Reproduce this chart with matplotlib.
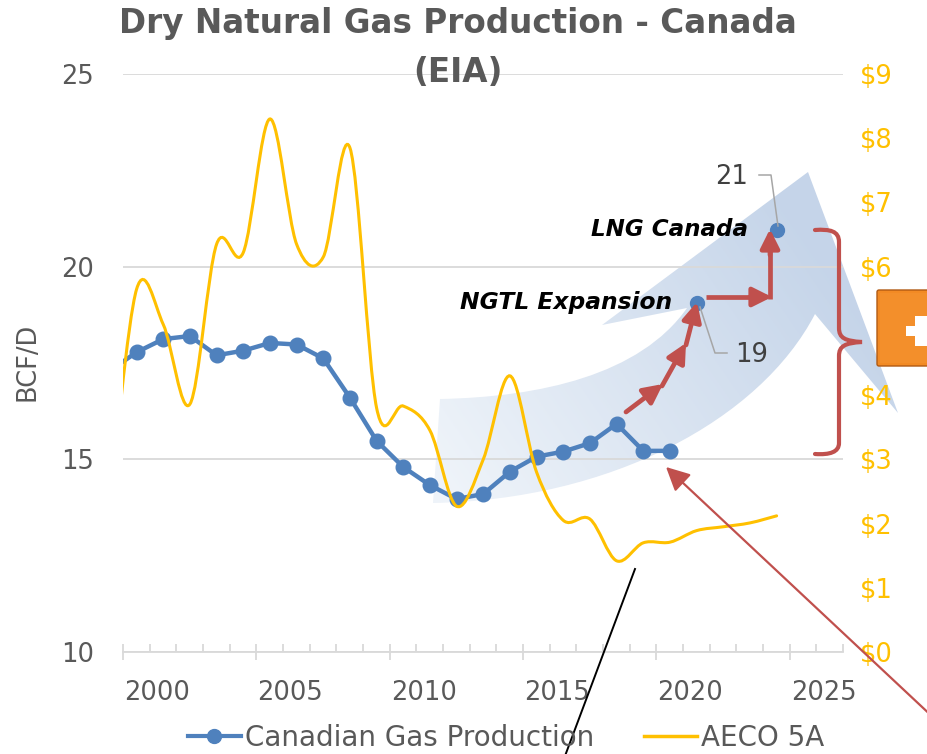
import matplotlib
matplotlib.use("Agg")
import numpy as np
import matplotlib.pyplot as plt
from matplotlib.path import Path
from matplotlib.patches import PathPatch, FancyBboxPatch, Rectangle
from matplotlib.lines import Line2D
from matplotlib.transforms import ScaledTranslation
from matplotlib.ticker import FuncFormatter, FixedLocator

plt.rcParams["font.family"] = ["DejaVu Sans"]

# ---- data ----
years = [1999, 2000, 2001, 2002, 2003, 2004, 2005, 2006, 2007, 2008, 2009,
         2010, 2011, 2012, 2013, 2014, 2015, 2016, 2017, 2018, 2019, 2020]
gas_bcfd = [17.3, 17.78, 18.12, 18.2, 17.7, 17.82, 18.02, 17.98, 17.62, 16.6, 15.48,
            14.8, 14.33, 13.97, 14.1, 14.68, 15.07, 15.2, 15.42, 15.92, 15.22, 15.22]
proj_years = [2021, 2024]
proj_bcfd = [19.05, 20.95]
proj_labels = ["19", "21"]

aeco_years = list(range(1999, 2025))
aeco_price = [2.34, 5.65, 5.1, 3.86, 6.35, 6.22, 8.3, 6.35, 6.15, 7.85, 3.8,
              3.83, 3.45, 2.27, 3.0, 4.3, 2.8, 2.05, 2.07, 1.42, 1.7, 1.71,
              1.89, 1.95, 2.01, 2.12]

tick_years = [2000, 2005, 2010, 2015, 2020, 2025]

BLUE = "#4f81bd"; YEL = "#ffc000"; RED = "#c0504d"; TXT = "#595959"; GRID = "#d9d9d9"

W, H = 928, 754
fig = plt.figure(figsize=(W / 100, H / 100), dpi=100)

# pixel-space layers (background arrow / foreground callouts)
bg = fig.add_axes([0, 0, 1, 1], zorder=0)
bg.set_xlim(0, W); bg.set_ylim(H, 0); bg.axis("off")

ax = fig.add_axes([123 / W, 102 / H, 720 / W, 578 / H])
ax2 = ax.twinx()
ax.set_zorder(1); ax2.set_zorder(2)
ax.patch.set_visible(False); ax2.patch.set_visible(False)

fg = fig.add_axes([0, 0, 1, 1], zorder=3)
fg.set_xlim(0, W); fg.set_ylim(H, 0); fg.axis("off"); fg.patch.set_visible(False)

# ---- big translucent curved arrow ----
M, L, C = Path.MOVETO, Path.LINETO, Path.CURVE4
av = [(808, 172), (898, 413), (815, 314),
      (760, 420), (610, 500), (433, 503),
      (440, 399),
      (540, 397), (640, 375), (687, 308),
      (602, 325), (808, 172)]
ac = [M, L, L, C, C, C, L, C, C, C, L, Path.CLOSEPOLY]
clip = PathPatch(Path(av, ac), fc="none", ec="none")
bg.add_patch(clip)
gx, gy = np.meshgrid(np.linspace(425, 905, 240), np.linspace(165, 515, 180))
d = np.array([390.0, -270.0]); d /= np.hypot(*d)
t = ((gx - 440) * d[0] + (gy - 470) * d[1]) / 430
t = np.clip(t, 0, 1)[..., None]
c0 = np.array([0.935, 0.955, 0.978]); c1 = np.array([0.775, 0.835, 0.915])
img = c0 * (1 - t) + c1 * t
im = bg.imshow(img, extent=(425, 905, 515, 165), aspect="auto", zorder=1)
im.set_clip_path(clip)
bg.set_xlim(0, W); bg.set_ylim(H, 0)

# ---- data series ----
ax.plot(years, gas_bcfd, color=BLUE, lw=3.2, marker="o", ms=10.5, zorder=3)
ax.plot(proj_years, proj_bcfd, ls="none", color=BLUE, marker="o", ms=10, zorder=3)


def smooth(x, y):
    n = len(x)
    verts = [(x[0], y[0])]
    codes = [Path.MOVETO]
    for i in range(n - 1):
        xa, ya = (x[i - 1], y[i - 1]) if i > 0 else (x[i], y[i])
        xb, yb = (x[i + 2], y[i + 2]) if i + 2 < n else (x[i + 1], y[i + 1])
        verts += [(x[i] + (x[i + 1] - xa) / 6, y[i] + (y[i + 1] - ya) / 6),
                  (x[i + 1] - (xb - x[i]) / 6, y[i + 1] - (yb - y[i]) / 6),
                  (x[i + 1], y[i + 1])]
        codes += [Path.CURVE4] * 3
    return Path(verts, codes)


ax2.add_patch(PathPatch(smooth(aeco_years, aeco_price), fill=False, ec=YEL, lw=2.2,
                        zorder=3, capstyle="round"))

# ---- axes styling ----
ax.set_xlim(1999.49, 2026.49)
ax.set_ylim(10, 25)
ax2.set_ylim(0, 9)
ax.set_yticks([10, 15, 20, 25])
ax2.set_yticks(range(0, 10))
# $5 sits under the orange button in the original
ax2.yaxis.set_major_formatter(FuncFormatter(lambda v, p: "" if int(v) == 5 else f"${int(v)}"))
ax.grid(axis="y", color=GRID, lw=1.3)
ax.set_axisbelow(True)
for a in (ax, ax2):
    for s in ("left", "right", "top"):
        a.spines[s].set_visible(False)
ax.spines["bottom"].set_color(GRID); ax.spines["bottom"].set_linewidth(1.3)
ax2.spines["bottom"].set_visible(False)

ax.set_xticks([y - 0.51 for y in tick_years])
ax.set_xticklabels([str(y) for y in tick_years])
ax.xaxis.set_minor_locator(FixedLocator(np.arange(1999.49, 2026.6, 1.0)))
ax.tick_params(axis="x", which="major", direction="inout", length=12, width=1.3,
               color=GRID, labelsize=18.5, labelcolor=TXT, pad=14)
ax.tick_params(axis="x", which="minor", direction="in", length=6, width=1.3, color=GRID)
for lab in ax.get_xticklabels():
    lab.set_transform(lab.get_transform() + ScaledTranslation(0.34, 0, fig.dpi_scale_trans))
ax.tick_params(axis="y", length=0, labelsize=18.5, labelcolor=TXT, pad=21)
ax2.tick_params(axis="y", length=0, labelsize=18.5, labelcolor=YEL, pad=12)

fig.text(28 / W, 1 - 362 / H, "BCF/D", rotation=90, ha="center", va="center",
         fontsize=18.5, color=TXT)
fig.text(458 / W, 1 - 24 / H, "Dry Natural Gas Production - Canada", ha="center",
         va="center", fontsize=23.5, fontweight="bold", color=TXT)
fig.text(458 / W, 1 - 72 / H, "(EIA)", ha="center", va="center", fontsize=23.5,
         fontweight="bold", color=TXT, zorder=5)

handles = [Line2D([], [], color=BLUE, lw=3, marker="o", ms=10),
           Line2D([], [], color=YEL, lw=2.5)]
fig.legend(handles, ["Canadian Gas Production", "AECO 5A"], loc="center",
           bbox_to_anchor=(506 / W, 1 - 738 / H), ncol=2, frameon=False,
           fontsize=20, labelcolor=TXT, handlelength=1.9, handletextpad=0.15,
           columnspacing=1.8)

# ---- callouts (pixel space) ----
def red_arrow(p, q, lw=3.4, ms=23):
    fg.annotate("", xy=q, xytext=p,
                arrowprops=dict(arrowstyle="-|>,head_length=0.5,head_width=0.25",
                                color=RED, lw=lw, mutation_scale=ms,
                                shrinkA=0, shrinkB=0))

red_arrow((626, 412), (663, 384))
red_arrow((662, 386), (686, 343))
red_arrow((686, 345), (697, 302))
fg.plot([706, 760], [297, 297], color=RED, lw=3.4, solid_capstyle="butt")
red_arrow((750, 297), (772, 297))
fg.plot([770, 770], [299, 250], color=RED, lw=3.4, solid_capstyle="butt")
red_arrow((770, 255), (770, 229))

# brace
bv = [(815, 230), (830, 229), (839, 231), (839, 242), (839, 328),
      (839, 338), (845, 341), (862, 342), (845, 343), (839, 346), (839, 356),
      (839, 443), (839, 452), (830, 455), (815, 454)]
bc = [M, C, C, C, L, C, C, C, C, C, C, L, C, C, C]
fg.add_patch(PathPatch(Path(bv, bc), fill=False, ec=RED, lw=3.0, capstyle="round"))

# orange button
btn = FancyBboxPatch((877, 290), 95, 76, boxstyle="round,pad=0,rounding_size=2",
                     fc="#f28a24", ec="#b05a14", lw=1.0)
fg.add_patch(btn)
by = np.linspace(0, 1, 60)[:, None, None]
bimg = np.array([0.99, 0.68, 0.30]) * (1 - by) + np.array([0.88, 0.46, 0.10]) * by
bim = fg.imshow(np.repeat(bimg, 2, axis=1), extent=(877, 972, 366, 290), aspect="auto")
bim.set_clip_path(btn)
fg.add_patch(Rectangle((880, 293), 89, 70, fc="#f59a3a", ec="none", alpha=0.35))
fg.add_patch(Rectangle((906, 326), 36, 10, fc="white", ec="none"))
fg.add_patch(Rectangle((915, 316), 12, 30, fc="white", ec="none"))

# point labels + leaders
fg.plot([759, 771, 778], [175, 175, 226], color="#a6a6a6", lw=1.1)
fg.plot([700, 715, 727], [307, 353, 353], color="#a6a6a6", lw=1.1)
fg.text(732, 177, proj_labels[1], ha="center", va="center", fontsize=18.5, color="#404040")
fg.text(752, 355, proj_labels[0], ha="center", va="center", fontsize=18.5, color="#404040")
fg.text(748, 230, "LNG Canada", ha="right", va="center", fontsize=16.6,
        fontweight="bold", style="italic", color="black")
fg.text(672, 303, "NGTL Expansion", ha="right", va="center", fontsize=16.8,
        fontweight="bold", style="italic", color="black")

# pointer lines
fg.plot([635, 556], [569, 780], color="black", lw=1.4)
fg.annotate("", xy=(666, 467), xytext=(1000, 780),
            arrowprops=dict(arrowstyle="-|>,head_length=0.9,head_width=0.45",
                            color=RED, lw=1.6, mutation_scale=16, shrinkA=0, shrinkB=0))
fg.set_xlim(0, W); fg.set_ylim(H, 0)

fig.savefig("out.png", dpi=100)
